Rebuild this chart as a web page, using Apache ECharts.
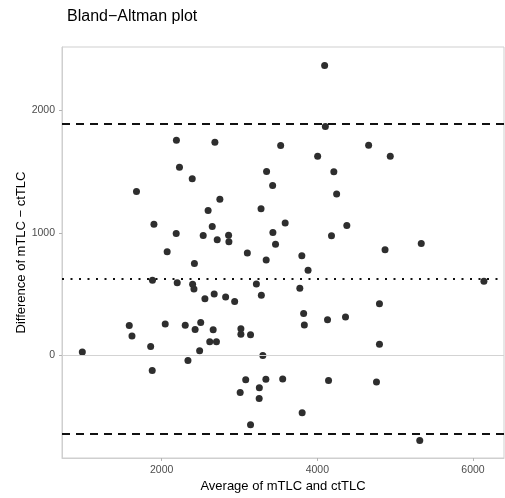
<!DOCTYPE html>
<html>
<head>
<meta charset="utf-8">
<script src="https://cdn.jsdelivr.net/npm/echarts@6/dist/echarts.min.js"></script>
<style>
html,body{margin:0;padding:0;background:#fff;}
#chart{width:505px;height:498px;}
</style>
</head>
<body>
<div id="chart"></div>
<script>
// Average of mTLC and ctTLC
const avgValues = [981,1584,1619,1677,1859,1882,1879,1901,2046,2071,2190,2187,2200,2229,2303,2338,2393,2398,2415,2421,2430,2488,2502,2534,2556,2597,2618,2650,2662,2675,2684,2704,2714,2748,2822,2860,2864,2938,3009,3018,3018,3080,3101,3142,3142,3217,3255,3253,3277,3281,3300,3339,3343,3348,3426,3429,3463,3529,3555,3587,3775,3801,3805,3824,3833,3881,4004,4094,4103,4131,4144,4182,4212,4248,4362,4379,4659,4760,4798,4798,4870,4937,5316,5335,6140];
// Difference of mTLC - ctTLC
const diffValues = [30,245,159,1336,73,613,-122,1070,258,846,1753,994,593,1533,247,-41,1441,581,543,750,213,39,269,978,462,1181,112,1052,211,502,1737,112,944,1274,477,979,928,440,-300,219,174,-196,835,170,-564,583,-262,-349,1195,492,1,-192,778,1499,1386,1002,907,1710,-190,1080,549,814,-466,343,249,694,1624,2362,1866,291,-202,975,1497,1316,315,1060,1713,-216,422,93,862,1624,-692,912,606];
const meanDiff = 628;
const upperLoA = 1891;
const lowerLoA = -635;
const zeroLine = 0;
const xTicks = [2000, 4000, 6000];
const yTicks = [0, 1000, 2000];

const points = avgValues.map((v, i) => [v, diffValues[i]]);
const font = 'Liberation Sans, Arial, Helvetica, sans-serif';
const plain = v => String(v);

const chart = echarts.init(document.getElementById('chart'), null, {renderer: 'canvas'});
chart.setOption({
  animation: false,
  backgroundColor: '#ffffff',
  title: {
    text: 'Bland\u2212Altman plot',
    left: 62, top: 4,
    textStyle: {fontFamily: font, fontSize: 16, fontWeight: 'normal', color: '#000'}
  },
  grid: {
    left: 62, right: 1, top: 47, bottom: 35,
    show: true, borderColor: '#cfcfcf', borderWidth: 1, backgroundColor: '#fff'
  },
  xAxis: {
    type: 'value', min: 720, max: 6398,
    name: 'Average of mTLC and ctTLC', nameLocation: 'middle', nameGap: 22, nameMoveOverlap: false,
    nameTextStyle: {fontFamily: font, fontSize: 13, color: '#000'},
    axisLine: {show: true, onZero: false, lineStyle: {color: '#cfcfcf', width: 1}},
    axisTick: {show: true, inside: false, customValues: xTicks, length: 3, lineStyle: {color: '#b3b3b3'}},
    axisLabel: {customValues: xTicks, formatter: plain, margin: 7, fontFamily: font, fontSize: 10.5, color: '#4d4d4d'},
    splitLine: {show: false}
  },
  yAxis: {
    type: 'value', min: -834, max: 2513,
    name: 'Difference of mTLC \u2212 ctTLC', nameLocation: 'middle', nameGap: 34, nameRotate: 90, nameMoveOverlap: false,
    nameTextStyle: {fontFamily: font, fontSize: 13, color: '#000'},
    axisLine: {show: true, onZero: false, lineStyle: {color: '#cfcfcf', width: 1}},
    axisTick: {show: true, inside: false, customValues: yTicks, length: 3, lineStyle: {color: '#b3b3b3'}},
    axisLabel: {customValues: yTicks, formatter: plain, margin: 7, fontFamily: font, fontSize: 10.5, color: '#4d4d4d'},
    splitLine: {show: false}
  },
  series: [
    {
      type: 'line', data: [], z: 1, silent: true,
      markLine: {
        silent: true, symbol: 'none', animation: false,
        label: {show: false},
        data: [
          {yAxis: zeroLine, lineStyle: {type: 'solid', color: '#d3d3d3', width: 1}},
          {yAxis: meanDiff, lineStyle: {type: [2, 6.5], color: '#111', width: 2, cap: 'butt'}},
          {yAxis: upperLoA, lineStyle: {type: [8, 6], color: '#111', width: 2}},
          {yAxis: lowerLoA, lineStyle: {type: [8, 6], color: '#111', width: 2}}
        ]
      }
    },
    {
      type: 'scatter', data: points, z: 3,
      symbol: 'circle', symbolSize: 7,
      itemStyle: {color: '#2e2e2e', opacity: 1}
    }
  ]
});
</script>
</body>
</html>
